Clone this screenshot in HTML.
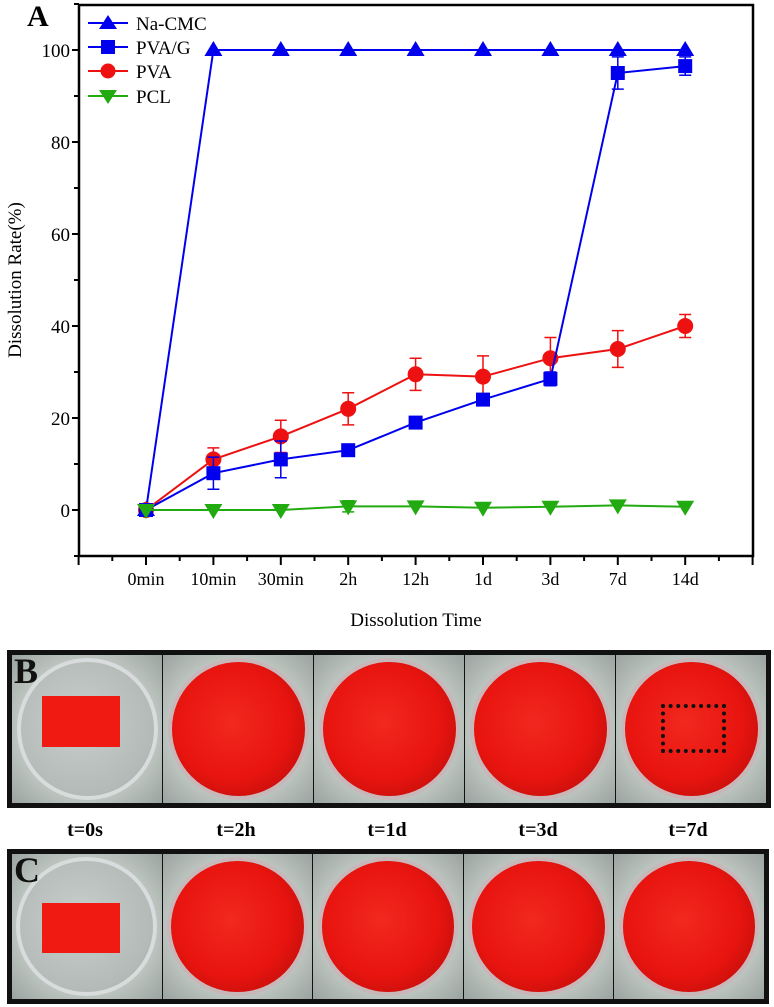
<!DOCTYPE html>
<html><head><meta charset="utf-8"><style>
body{margin:0;background:#fff;width:774px;height:1007px;overflow:hidden;position:relative;font-family:"Liberation Serif",serif}
.frame{position:absolute;border:5px solid #111;box-sizing:border-box;display:flex;background:#111}
.ph{flex:1;position:relative;overflow:hidden;background:radial-gradient(circle,#c9d0cc 55%,#9aa39f 100%);margin-right:1px}
.ph:last-child{margin-right:0}
.dish{position:absolute;left:3%;top:2%;width:94%;height:96%;border-radius:50%;border:4px solid #c9b6b8;box-sizing:border-box;background:radial-gradient(circle at 45% 45%,#f2281e 0%,#e8140f 55%,#c00e0b 85%,#8a0a08 100%)}
.clear{background:radial-gradient(circle at 45% 45%,#c8cecb 0%,#b3bab7 70%,#8f9794 100%);border-color:#d8dcdc}
.film{position:absolute;left:20%;top:28%;width:52%;height:34%;background:#f01a12}
.lab{position:absolute;font-weight:bold;font-size:36px;color:#111;left:10px}
.tl{position:absolute;top:819px;font-weight:bold;font-size:20px;width:150px;text-align:center}
</style></head><body>
<svg width="774" height="640" style="position:absolute;left:0;top:0" font-family="Liberation Serif, serif">
<text x="27" y="26" font-size="30" font-weight="bold">A</text>
<rect x="79" y="5" width="674" height="551" fill="none" stroke="#000" stroke-width="2.5"/>
<g id="axes"></g><g id="series"></g>
<g font-size="19">
<line x1="88" y1="23" x2="128" y2="23" stroke="#0000ee" stroke-width="2"/><polygon points="108,15 99,29 117,29" fill="#0000ee"/><text x="136" y="30">Na-CMC</text>
<line x1="88" y1="47" x2="128" y2="47" stroke="#0000ee" stroke-width="2"/><rect x="101" y="40" width="14" height="14" fill="#0000ee"/><text x="136" y="54">PVA/G</text>
<line x1="88" y1="71" x2="128" y2="71" stroke="#ee1111" stroke-width="2"/><circle cx="108" cy="71" r="7.5" fill="#ee1111"/><text x="136" y="78">PVA</text>
<line x1="88" y1="96" x2="128" y2="96" stroke="#22aa11" stroke-width="2"/><polygon points="108,104 99,90 117,90" fill="#22aa11"/><text x="136" y="103">PCL</text>
</g>
<text transform="translate(21,280) rotate(-90)" text-anchor="middle" font-size="19">Dissolution Rate(%)</text>
<text x="416" y="626" text-anchor="middle" font-size="19">Dissolution Time</text>
</svg>
<div class="frame" style="left:7px;top:650px;width:764px;height:158px">
<div class="ph"><div class="dish clear"></div><div class="film"></div></div>
<div class="ph"><div class="dish"></div></div>
<div class="ph"><div class="dish"></div></div>
<div class="ph"><div class="dish"></div></div>
<div class="ph"><div class="dish"></div><div style="position:absolute;left:30%;top:33%;width:38%;height:28%;border:4px dotted #111"></div></div>
</div>
<div class="lab" style="top:650px;left:14px">B</div>
<div class="tl" style="left:10px">t=0s</div><div class="tl" style="left:161px">t=2h</div><div class="tl" style="left:312px">t=1d</div><div class="tl" style="left:463px">t=3d</div><div class="tl" style="left:613px">t=7d</div>
<div class="frame" style="left:7px;top:849px;width:762px;height:155px">
<div class="ph"><div class="dish clear"></div><div class="film" style="top:34%"></div></div>
<div class="ph"><div class="dish"></div></div>
<div class="ph"><div class="dish"></div></div>
<div class="ph"><div class="dish"></div></div>
<div class="ph"><div class="dish"></div></div>
</div>
<div class="lab" style="top:849px;left:14px">C</div>
<script>
const categories=["0min","10min","30min","2h","12h","1d","3d","7d","14d"];
const yTicks=[0,20,40,60,80,100];
const naCMC=[0,100,100,100,100,100,100,100,100];
const pvaG=[0,8,11,13,19,24,28.5,95,96.5];
const pvaGErr=[0,3.5,4,0.8,0.8,1.2,1.5,3.5,2];
const pva=[0,11,16,22,29.5,29,33,35,40];
const pvaErr=[0,2.5,3.5,3.5,3.5,4.5,4.5,4,2.5];
const pcl=[0,0,0,0.8,0.8,0.5,0.7,1,0.7];
const pclErr=[0,0,0,1.2,0,0,0,0,0];
const NS="http://www.w3.org/2000/svg";
const X=i=>146+i*67.4, Y=v=>510-v*4.6;
function mk(t,a,p){const e=document.createElementNS(NS,t);for(const k in a)e.setAttribute(k,a[k]);p.appendChild(e);return e;}
const ax=document.getElementById('axes'),sg=document.getElementById('series');
for(let v=-10;v<=110;v+=10){const major=v%20===0;mk('line',{x1:79-(major?7:5),x2:79,y1:Y(v),y2:Y(v),stroke:'#000','stroke-width':2},ax);}
yTicks.forEach(v=>{const t=mk('text',{x:70,y:Y(v)+7,'text-anchor':'end','font-size':19},ax);t.textContent=v;

});
for(let k=-2;k<=18;k++){const x=146+k*33.7;if(x<78||x>755)continue;const major=k%2===0;mk('line',{x1:x,x2:x,y1:556,y2:556+(major?9:5),stroke:'#000','stroke-width':2},ax);}
categories.forEach((c,i)=>{const t=mk('text',{x:X(i),y:585,'text-anchor':'middle','font-size':18},ax);t.textContent=c;

});
function series(name,vals,err,color,shape){
 const g=mk('g',{},sg);
 
 
 mk('polyline',{points:vals.map((v,i)=>X(i)+','+Y(v)).join(' '),fill:'none',stroke:color,'stroke-width':2},g);
 vals.forEach((v,i)=>{const x=X(i),y=Y(v);
  if(err&&err[i]>0){const e=err[i];mk('path',{d:`M${x},${Y(v+e)}V${Y(v-e)}M${x-6},${Y(v+e)}h12M${x-6},${Y(v-e)}h12`,stroke:color,'stroke-width':1.5,fill:'none'},g);}
  let m;
  if(shape==='tri')m=mk('polygon',{points:`${x},${y-9} ${x-9},${y+6} ${x+9},${y+6}`,fill:color},g);
  else if(shape==='sq')m=mk('rect',{x:x-7,y:y-7,width:14,height:14,fill:color},g);
  else if(shape==='circ')m=mk('circle',{cx:x,cy:y,r:8,fill:color},g);
  else m=mk('polygon',{points:`${x},${y+9} ${x-9},${y-6} ${x+9},${y-6}`,fill:color},g);
  
  
 });
}
series('series-na-cmc',naCMC,null,'#0000ee','tri');
series('series-pva',pva,pvaErr,'#ee1111','circ');
series('series-pva-g',pvaG,pvaGErr,'#0000ee','sq');
series('series-pcl',pcl,pclErr,'#22aa11','inv');
</script>
</body></html>
